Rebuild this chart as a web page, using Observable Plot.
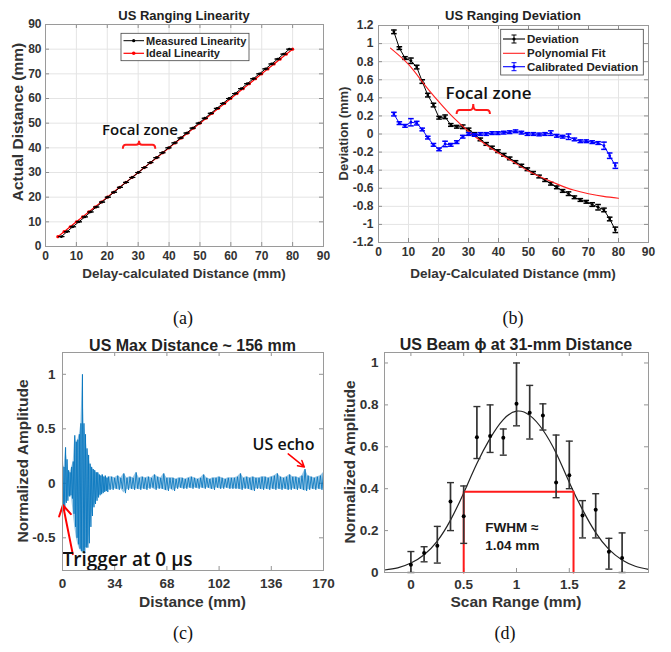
<!DOCTYPE html>
<html><head><meta charset="utf-8">
<script src="https://cdn.jsdelivr.net/npm/d3@7"></script>
<script src="https://cdn.jsdelivr.net/npm/@observablehq/plot@0.6"></script>
<style>
html,body{margin:0;padding:0;background:#fff;}
#fig{position:relative;width:671px;height:652px;overflow:hidden;background:#fff;}
.cap{position:absolute;font-family:"Liberation Serif","Times New Roman",serif;font-size:18px;color:#111;transform:translate(-50%,-50%);}
</style></head><body><div id="fig"></div>
<script>
// ---------- DATA ----------
// (a)/(b) ranging: actual distances and measured deviation (delay-calculated minus actual)
const actualDistance = [4,6,8,10,12,14,16,18,20,22,24,26,28,30,32,34,36,38,40,42,44,46,48,50,52,54,56,58,60,62,64,66,68,70,72,74,76,78,80];
const deviation = [1.13,0.95,0.84,0.81,0.74,0.58,0.43,0.32,0.18,0.19,0.10,0.08,0.08,0.05,0.00,-0.06,-0.11,-0.15,-0.19,-0.23,-0.27,-0.31,-0.35,-0.39,-0.43,-0.47,-0.51,-0.55,-0.59,-0.63,-0.66,-0.70,-0.73,-0.75,-0.78,-0.81,-0.84,-0.94,-1.06];
const deviationErr = [0.02,0.015,0.015,0.03,0.02,0.02,0.02,0.02,0.015,0.02,0.015,0.015,0.02,0.015,0.015,0.015,0.015,0.015,0.015,0.015,0.015,0.015,0.015,0.015,0.015,0.015,0.015,0.015,0.015,0.015,0.02,0.015,0.015,0.015,0.02,0.03,0.02,0.02,0.03];
const calibratedDeviation = [0.22,0.12,0.09,0.13,0.12,0.05,-0.04,-0.12,-0.17,-0.11,-0.12,-0.09,-0.03,0.00,-0.01,0.00,0.00,0.01,0.01,0.015,0.02,0.03,0.015,0.00,0.00,-0.005,0.00,0.01,-0.02,-0.03,-0.03,-0.06,-0.08,-0.08,-0.09,-0.10,-0.13,-0.24,-0.35];
const calibratedErr = [0.02,0.015,0.015,0.04,0.02,0.015,0.015,0.015,0.015,0.03,0.015,0.015,0.015,0.015,0.015,0.015,0.015,0.015,0.015,0.015,0.015,0.015,0.015,0.015,0.015,0.015,0.015,0.025,0.015,0.015,0.03,0.015,0.015,0.015,0.015,0.015,0.04,0.03,0.03];
const polyFitX = [4,10,15,20,25,30,35,40,45,50,55,60,65,70,75,80];
const polyFitY = [0.95,0.77,0.56,0.36,0.18,0.03,-0.10,-0.21,-0.31,-0.41,-0.49,-0.56,-0.62,-0.66,-0.69,-0.71];
const linTicks = [0,10,20,30,40,50,60,70,80,90];
const devTicks = [-1.2,-1,-0.8,-0.6,-0.4,-0.2,0,0.2,0.4,0.6,0.8,1,1.2];

// (c) echo signal envelope (upper / lower extremes read per sample)
const burstX = [0,1,2,3,4,5,6,7,8,9,10,11,12,13,14,15,16,17,18,19,20,21,22,23,24,25,26,27,28,29,30];
const burstUpper = [0.18,0.15,0.33,0.22,0.12,0.10,0.15,0.20,0.44,0.38,0.40,0.45,0.55,1.00,0.55,0.45,0.32,0.26,0.18,0.15,0.13,0.12,0.10,0.10,0.08,0.07,0.08,0.06,0.07,0.05,0.06];
const burstLower = [-0.24,-0.25,-0.18,-0.16,-0.12,-0.11,-0.14,-0.28,-0.40,-0.50,-0.56,-0.60,-0.62,-0.64,-0.62,-0.59,-0.59,-0.55,-0.40,-0.30,-0.22,-0.19,-0.16,-0.13,-0.11,-0.10,-0.09,-0.08,-0.07,-0.08,-0.06];
const noiseX = [32,34,36,38,40,42,44,46,48,50,52,54,56,58,60,62,64,66,68,70,72,74,76,78,80,82,84,86,88,90,92,94,96,98,100,102,104,106,108,110,112,114,116,118,120,122,124,126,128,130,132,134,136,138,140,142,144,146,148,150,152,154,156,158,160,162,164,166,168,170];
const noiseUpper = [0.06,0.05,0.07,0.05,0.09,0.05,0.06,0.05,0.10,0.05, 0.06,0.05,0.06,0.05,0.08,0.06,0.05,0.09,0.05,0.05, 0.05,0.04,0.05,0.05,0.04,0.05,0.06,0.05,0.04,0.05, 0.08,0.05,0.04,0.05,0.05,0.06,0.05,0.04,0.05,0.05, 0.05,0.06,0.09,0.05,0.06,0.05,0.06,0.05,0.05,0.06, 0.06,0.05,0.06,0.07,0.09,0.06,0.05,0.06,0.08,0.06, 0.06,0.05,0.07,0.13,0.07,0.06,0.05,0.06,0.07,0.10];
const noiseLower = [-0.06,-0.05,-0.06,-0.05,-0.09,-0.06,-0.05,-0.06,-0.05,-0.06, -0.05,-0.06,-0.05,-0.04,-0.06,-0.05,-0.05,-0.06,-0.07,-0.05, -0.07,-0.05,-0.04,-0.05,-0.05,-0.04,-0.05,-0.04,-0.05,-0.04, -0.05,-0.04,-0.05,-0.06,-0.04,-0.05,-0.05,-0.04,-0.05,-0.05, -0.05,-0.05,-0.06,-0.05,-0.05,-0.06,-0.07,-0.05,-0.05,-0.06, -0.05,-0.06,-0.05,-0.06,-0.05,-0.06,-0.05,-0.06,-0.06,-0.05, -0.06,-0.05,-0.06,-0.07,-0.06,-0.05,-0.06,-0.05,-0.06,-0.05];
const sigXTicks = [0,34,68,102,136,170];
const sigYTicks = [-0.5,0,0.5,1];

// (d) beam profile
const scanX = [0,0.125,0.25,0.375,0.5,0.625,0.75,0.875,1,1.125,1.25,1.375,1.5,1.625,1.75,1.875,2];
const beamAmp = [0.037,0.093,0.128,0.339,0.269,0.645,0.651,0.643,0.805,0.762,0.749,0.429,0.464,0.272,0.30,0.099,0.069];
const beamHigh = [0.10,0.123,0.22,0.429,0.413,0.792,0.80,0.685,1.0,0.893,0.805,0.656,0.627,0.343,0.376,0.163,0.189];
const beamLow = [0.0,0.051,0.045,0.20,0.139,0.544,0.573,0.56,0.70,0.637,0.68,0.357,0.40,0.165,0.165,0.016,0.0];
const fitX = [-0.25,-0.125,0,0.125,0.25,0.375,0.5,0.625,0.75,0.875,1,1.125,1.25,1.375,1.5,1.625,1.75,1.875,2,2.125,2.25];
const fitY = [0.012,0.022,0.045,0.085,0.15,0.25,0.38,0.52,0.64,0.73,0.77,0.75,0.68,0.57,0.43,0.30,0.19,0.11,0.06,0.03,0.015];
const fwhmBounds = [0.5, 1.54];
const halfMax = 0.385;
const scanXTicks = [0,0.5,1,1.5,2];
const scanYTicks = [0,0.2,0.4,0.6,0.8,1];

// ---------- HELPERS ----------
const FONT = '"Liberation Sans", Arial, Helvetica, sans-serif';
const NOTE = '"Open Sans", "Noto Sans", sans-serif';
const TXT = "#333";
const fmt = v => String(Math.round(v * 1000) / 1000);
const capSymbol = {draw(ctx, size) { const w = Math.sqrt(size / Math.PI); ctx.moveTo(-w, 0); ctx.lineTo(w, 0); }};
const fig = document.getElementById("fig");

function styleAt(left, top, size) {
  return {position: "absolute", left: left + "px", top: top + "px", fontFamily: FONT, fontSize: size + "px",
          fontWeight: "bold", color: TXT, background: "transparent", overflow: "visible", maxWidth: "none"};
}
function boldTicks(svg, size) {
  d3.select(svg).selectAll('g[aria-label$="tick label"] text')
    .style("font-size", size + "px").style("font-weight", "bold").style("font-family", FONT).style("fill", TXT);
}
function innerTicks(xt, yt, w, h, len = 4) {
  const o = {stroke: "#777", strokeWidth: 0.8};
  return [
    Plot.ruleX(xt, {...o, insetTop: h - len}),
    Plot.ruleX(xt, {...o, insetBottom: h - len}),
    Plot.ruleY(yt, {...o, insetRight: w - len}),
    Plot.ruleY(yt, {...o, insetLeft: w - len})
  ];
}
function addText(svg, x, y, str, o = {}) {
  const t = d3.select(svg).append("text")
    .attr("x", x).attr("y", y)
    .attr("text-anchor", o.anchor || "middle")
    .attr("dominant-baseline", "central")
    .attr("font-family", o.family || FONT)
    .attr("font-size", o.size || 13)
    .attr("font-weight", o.weight || "bold")
    .attr("fill", o.fill || "#262626")
    .text(str);
  if (o.rotate) t.attr("transform", `rotate(${o.rotate},${x},${y})`);
  return t;
}
function brace(svg, plot, xa, xb, yb, down, up) {
  const sx = plot.scale("x"), sy = plot.scale("y");
  const X1 = sx.apply(xa), X2 = sx.apply(xb), Y = sy.apply(yb), Xm = (X1 + X2) / 2;
  const p = `M${X1},${Y + down} Q${X1},${Y} ${X1 + 3},${Y} L${Xm - 3},${Y} Q${Xm},${Y} ${Xm},${Y - up} Q${Xm},${Y} ${Xm + 3},${Y} L${X2 - 3},${Y} Q${X2},${Y} ${X2},${Y + down}`;
  d3.select(svg).append("path").attr("d", p).attr("fill", "none").attr("stroke", "#ff1a1a").attr("stroke-width", 2);
}
function caption(str, x, y) {
  const d = document.createElement("div"); d.className = "cap"; d.style.left = x + "px"; d.style.top = y + "px";
  d.textContent = str; fig.appendChild(d);
}

const ranging = actualDistance.map((a, i) => ({
  actual: a, delay: a + deviation[i], dev: deviation[i], err: deviationErr[i],
  cal: calibratedDeviation[i], calErr: calibratedErr[i]
}));

// ---------- PANEL A ----------
{
  const W = 335, H = 290, m = {t: 24, r: 12, b: 44, l: 45};
  const iw = W - m.l - m.r, ih = H - m.t - m.b;
  const plot = Plot.plot({
    width: W, height: H, marginTop: m.t, marginRight: m.r, marginBottom: m.b, marginLeft: m.l,
    style: styleAt(0, 0, 12),
    x: {domain: [0, 90], ticks: linTicks, tickSize: 0, tickPadding: 5, tickFormat: fmt, label: null},
    y: {domain: [0, 90], ticks: linTicks, tickSize: 0, tickPadding: 4, tickFormat: fmt, label: null},
    marks: [
      Plot.ruleX(linTicks, {stroke: "#e4e4e4"}),
      Plot.ruleY(linTicks, {stroke: "#e4e4e4"}),
      ...innerTicks(linTicks, linTicks, iw, ih),
      Plot.line(ranging, {x: "actual", y: "actual", stroke: "#ff0000", strokeWidth: 1.2}),
      Plot.dot(ranging, {x: "actual", y: "actual", r: 1.6, fill: "#ff0000"}),
      Plot.line(ranging, {x: "delay", y: "actual", stroke: "#000", strokeWidth: 1}),
      Plot.ruleX(ranging, {x: "delay", y1: d => d.actual - d.err, y2: d => d.actual + d.err, stroke: "#000"}),
      Plot.dot(ranging, {x: "delay", y: d => d.actual + d.err, symbol: capSymbol, r: 3, stroke: "#000", strokeWidth: 1}),
      Plot.dot(ranging, {x: "delay", y: d => d.actual - d.err, symbol: capSymbol, r: 3, stroke: "#000", strokeWidth: 1}),
      Plot.dot(ranging, {x: "delay", y: "actual", r: 1.4, fill: "#000"}),
      Plot.text(["Focal zone"], {x: 30.6, y: 47, fontFamily: NOTE, fontSize: 15, fontWeight: 600, fill: "#111"}),
      Plot.frame({stroke: "#9a9a9a"})
    ]
  });
  fig.appendChild(plot);
  boldTicks(plot, 12);
  brace(plot, plot, 25.2, 35.7, 41, 4, 4);
  addText(plot, 184, 15, "US Ranging Linearity", {size: 13, fill: "#222"});
  addText(plot, 184, 273, "Delay-calculated Distance (mm)", {size: 13.5, fill: TXT});
  addText(plot, 17, 122, "Actual Distance (mm)", {size: 15.5, fill: TXT, rotate: -90});
  // legend
  const g = d3.select(plot).append("g");
  g.append("rect").attr("x", 121).attr("y", 33.3).attr("width", 128).attr("height", 27.4).attr("fill", "#fff").attr("stroke", "#444").attr("stroke-width", 0.8);
  g.append("line").attr("x1", 123.5).attr("x2", 144).attr("y1", 40.7).attr("y2", 40.7).attr("stroke", "#000");
  g.append("circle").attr("cx", 133.7).attr("cy", 40.7).attr("r", 1.6).attr("fill", "#000");
  g.append("line").attr("x1", 123.5).attr("x2", 144).attr("y1", 53.3).attr("y2", 53.3).attr("stroke", "#ff0000").attr("stroke-width", 1.2);
  g.append("circle").attr("cx", 133.7).attr("cy", 53.3).attr("r", 1.8).attr("fill", "#ff0000");
  addText(plot, 146, 40.7, "Measured Linearity", {size: 11, anchor: "start", fill: "#222"});
  addText(plot, 146, 53.3, "Ideal Linearity", {size: 11, anchor: "start", fill: "#222"});
}

// ---------- PANEL B ----------
{
  const W = 336, H = 290, m = {t: 25, r: 23, b: 48, l: 43};
  const iw = W - m.l - m.r, ih = H - m.t - m.b;
  const poly = polyFitX.map((x, i) => ({x, y: polyFitY[i]}));
  const plot = Plot.plot({
    width: W, height: H, marginTop: m.t, marginRight: m.r, marginBottom: m.b, marginLeft: m.l,
    style: styleAt(335, 0, 12),
    x: {domain: [0, 90], ticks: linTicks, tickSize: 0, tickPadding: 5, tickFormat: fmt, label: null},
    y: {domain: [-1.2, 1.2], ticks: devTicks, tickSize: 0, tickPadding: 5, tickFormat: fmt, label: null},
    marks: [
      Plot.ruleX(linTicks, {stroke: "#e4e4e4"}),
      Plot.ruleY(devTicks, {stroke: "#e4e4e4"}),
      ...innerTicks(linTicks, devTicks, iw, ih),
      Plot.line(ranging, {x: "delay", y: "dev", stroke: "#000", strokeWidth: 1}),
      Plot.ruleX(ranging, {x: "delay", y1: d => d.dev - d.err, y2: d => d.dev + d.err, stroke: "#000"}),
      Plot.dot(ranging, {x: "delay", y: d => d.dev + d.err, symbol: capSymbol, r: 2.8, stroke: "#000"}),
      Plot.dot(ranging, {x: "delay", y: d => d.dev - d.err, symbol: capSymbol, r: 2.8, stroke: "#000"}),
      Plot.dot(ranging, {x: "delay", y: "dev", r: 1.4, fill: "#000"}),
      Plot.line(poly, {x: "x", y: "y", curve: "natural", stroke: "#ff2020", strokeWidth: 1.1}),
      Plot.line(ranging, {x: "delay", y: "cal", stroke: "#0000ff", strokeWidth: 1}),
      Plot.ruleX(ranging, {x: "delay", y1: d => d.cal - d.calErr, y2: d => d.cal + d.calErr, stroke: "#0000ff"}),
      Plot.dot(ranging, {x: "delay", y: d => d.cal + d.calErr, symbol: capSymbol, r: 2.8, stroke: "#0000ff"}),
      Plot.dot(ranging, {x: "delay", y: d => d.cal - d.calErr, symbol: capSymbol, r: 2.8, stroke: "#0000ff"}),
      Plot.dot(ranging, {x: "delay", y: "cal", r: 1.4, fill: "#0000ff"}),
      Plot.text(["Focal zone"], {x: 36.7, y: 0.445, fontFamily: NOTE, fontSize: 17, fontWeight: 600, fill: "#111"}),
      Plot.frame({stroke: "#9a9a9a"})
    ]
  });
  fig.appendChild(plot);
  boldTicks(plot, 12);
  brace(plot, plot, 26.2, 37.3, 0.26, 4, 6);
  addText(plot, 178, 15, "US Ranging Deviation", {size: 13, fill: "#222"});
  addText(plot, 178, 273, "Delay-Calculated Distance (mm)", {size: 13.5, fill: TXT});
  addText(plot, 8.5, 133.5, "Deviation (mm)", {size: 13, fill: TXT, rotate: -90});
  const g = d3.select(plot).append("g");
  g.append("rect").attr("x", 165.7).attr("y", 29.3).attr("width", 142.6).attr("height", 45.7).attr("fill", "#fff").attr("stroke", "#444").attr("stroke-width", 0.8);
  const rows = [[39, "#000", "Deviation", true], [53.3, "#ff2020", "Polynomial Fit", false], [66.7, "#0000ff", "Calibrated Deviation", true]];
  for (const [y, c, label, eb] of rows) {
    g.append("line").attr("x1", 168).attr("x2", 190).attr("y1", y).attr("y2", y).attr("stroke", c).attr("stroke-width", 1.1);
    if (eb) {
      g.append("line").attr("x1", 179).attr("x2", 179).attr("y1", y - 4).attr("y2", y + 4).attr("stroke", c);
      g.append("line").attr("x1", 176.5).attr("x2", 181.5).attr("y1", y - 4).attr("y2", y - 4).attr("stroke", c);
      g.append("line").attr("x1", 176.5).attr("x2", 181.5).attr("y1", y + 4).attr("y2", y + 4).attr("stroke", c);
      g.append("circle").attr("cx", 179).attr("cy", y).attr("r", 1.6).attr("fill", c);
    }
    addText(plot, 192, y, label, {size: 11.5, anchor: "start", fill: "#222"});
  }
}

// ---------- PANEL C ----------
{
  const W = 335, H = 300, m = {t: 32, r: 12, b: 50, l: 62};
  const iw = W - m.l - m.r, ih = H - m.t - m.b;
  const sx = burstX.concat(noiseX), up = burstUpper.concat(noiseUpper), lo = burstLower.concat(noiseLower);
  const env = sx.map((x, i) => ({x, up: up[i], lo: lo[i]}));
  const zig = [];
  env.forEach((d, i) => {
    const half = i < env.length - 1 ? (env[i + 1].x - d.x) / 2 : 0;
    zig.push({x: d.x, y: d.up});
    zig.push({x: d.x + half, y: d.lo});
  });
  const trigArrow = [{x1: 6.7, y1: -0.65, x2: 0.3, y2: -0.2}];
  const echoArrow = [{x1: 147, y1: 0.27, x2: 157.5, y2: 0.15}];
  const plot = Plot.plot({
    width: W, height: H, marginTop: m.t, marginRight: m.r, marginBottom: m.b, marginLeft: m.l,
    style: styleAt(0, 320, 13),
    x: {domain: [0, 170], ticks: sigXTicks, tickSize: 0, tickPadding: 8, tickFormat: fmt, label: null},
    y: {domain: [-0.8, 1.2], ticks: sigYTicks, tickSize: 0, tickPadding: 7, tickFormat: fmt, label: null},
    marks: [
      ...innerTicks(sigXTicks, sigYTicks, iw, ih),
      Plot.areaY(env, {x: "x", y1: "lo", y2: "up", fill: "#0072BD", fillOpacity: 0.4}),
      Plot.line(zig, {x: "x", y: "y", stroke: "#0072BD", strokeWidth: 0.8}),
      Plot.arrow(trigArrow, {x1: "x1", y1: "y1", x2: "x2", y2: "y2", stroke: "#ff0000", strokeWidth: 2, headLength: 9}),
      Plot.arrow(echoArrow, {x1: "x1", y1: "y1", x2: "x2", y2: "y2", stroke: "#ff0000", strokeWidth: 1.5, headLength: 7}),
      Plot.text(["Trigger at 0 µs"], {x: 0, y: -0.70, textAnchor: "start", fontFamily: NOTE, fontSize: 19, fontWeight: 600, fill: "#111"}),
      Plot.text(["US echo"], {x: 144, y: 0.35, fontFamily: NOTE, fontSize: 16, fontWeight: 600, fill: "#111"}),
      Plot.frame({stroke: "#9a9a9a"})
    ]
  });
  fig.appendChild(plot);
  boldTicks(plot, 13.5);
  addText(plot, 192.5, 25, "US Max Distance ~ 156 mm", {size: 16, fill: "#222"});
  addText(plot, 192.5, 281, "Distance (mm)", {size: 15.5, fill: TXT});
  addText(plot, 22, 141, "Normalized Amplitude", {size: 15.5, fill: TXT, rotate: -90});
}

// ---------- PANEL D ----------
{
  const W = 336, H = 300, m = {t: 32, r: 23, b: 48, l: 49};
  const iw = W - m.l - m.r, ih = H - m.t - m.b;
  const beam = scanX.map((x, i) => ({x, y: beamAmp[i], lo: beamLow[i], hi: beamHigh[i]}));
  const fit = fitX.map((x, i) => ({x, y: fitY[i]}));
  const box = [{x: fwhmBounds[0], y: 0}, {x: fwhmBounds[0], y: halfMax}, {x: fwhmBounds[1], y: halfMax}, {x: fwhmBounds[1], y: 0}];
  const plot = Plot.plot({
    width: W, height: H, marginTop: m.t, marginRight: m.r, marginBottom: m.b, marginLeft: m.l,
    style: styleAt(335, 320, 13),
    x: {domain: [-0.25, 2.25], ticks: scanXTicks, tickSize: 0, tickPadding: 7, tickFormat: fmt, label: null},
    y: {domain: [0, 1.05], ticks: scanYTicks, tickSize: 0, tickPadding: 6, tickFormat: fmt, label: null},
    marks: [
      ...innerTicks(scanXTicks, scanYTicks, iw, ih),
      Plot.line(fit, {x: "x", y: "y", curve: "natural", stroke: "#222", strokeWidth: 1.2}),
      Plot.line(box, {x: "x", y: "y", stroke: "#ff1a1a", strokeWidth: 2}),
      Plot.ruleX(beam, {x: "x", y1: "lo", y2: "hi", stroke: "#333", strokeWidth: 1.7}),
      Plot.dot(beam, {x: "x", y: "hi", symbol: capSymbol, r: 3.5, stroke: "#333", strokeWidth: 1.4}),
      Plot.dot(beam, {x: "x", y: "lo", symbol: capSymbol, r: 3.5, stroke: "#333", strokeWidth: 1.4}),
      Plot.dot(beam, {x: "x", y: "y", r: 2, fill: "#000"}),
      Plot.text(["FWHM ≈"], {x: 0.705, y: 0.215, textAnchor: "start", fontSize: 13.5, fontWeight: "bold", fill: "#1a1a1a"}),
      Plot.text(["1.04 mm"], {x: 0.705, y: 0.128, textAnchor: "start", fontSize: 13.5, fontWeight: "bold", fill: "#1a1a1a"}),
      Plot.frame({stroke: "#9a9a9a"})
    ]
  });
  fig.appendChild(plot);
  boldTicks(plot, 13.5);
  addText(plot, 181, 24, "US Beam ϕ at 31-mm Distance", {size: 16, fill: "#222"});
  addText(plot, 181, 281, "Scan Range (mm)", {size: 15.5, fill: TXT});
  addText(plot, 14, 142, "Normalized Amplitude", {size: 15.5, fill: TXT, rotate: -90});
}

caption("(a)", 183, 318);
caption("(b)", 513, 318);
caption("(c)", 183, 633);
caption("(d)", 505, 633);
</script></body></html>
